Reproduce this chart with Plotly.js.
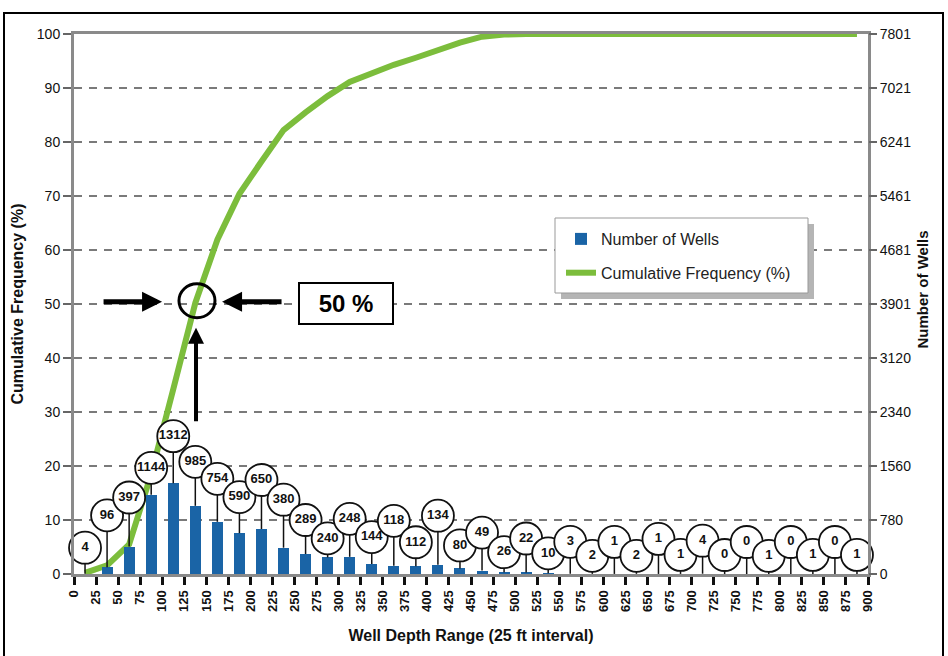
<!DOCTYPE html>
<html><head><meta charset="utf-8">
<script src="https://cdn.plot.ly/plotly-3.0.1.min.js"></script>
<style>html,body{margin:0;padding:0;background:#fff;}#chart{width:948px;height:656px;}</style>
</head><body><div id="chart"></div>
<script>
// ---------- data ----------
const depthTicks = [0,25,50,75,100,125,150,175,200,225,250,275,300,325,350,375,400,425,450,475,500,525,550,575,600,625,650,675,700,725,750,775,800,825,850,875,900];
const tickLabels = ['0','25','50','75','100','125','150','175','200','225','250','275','300','325','350','375','400','425','450','475','500','525','550','575','600','625','650','675','700','725','750','775','800','825','850','875','900'];
const wellCounts = [4,96,397,1144,1312,985,754,590,650,380,289,240,248,144,118,112,134,80,49,26,22,10,3,2,1,2,1,1,4,0,0,1,0,1,0,1];
const cumulativePct = [0.2,1.6,5.5,18.5,34.2,50.2,61.9,70.4,76.4,82.2,85.5,88.5,91.1,92.8,94.3,95.6,97.0,98.4,99.5,99.9,100,100,100,100,100,100,100,100,100,100,100,100,100,100,100,100];
const leftTicks = [0,10,20,30,40,50,60,70,80,90,100];
const rightTicks = [0,780,1560,2340,3120,3901,4681,5461,6241,7021,7801];
const rightTickLabels = ['0','780','1560','2340','3120','3901','4681','5461','6241','7021','7801'];

// ---------- layout helpers (label placement, px above bar top) ----------
const bubbleLiftPx = [26,52,49,27,47,44,43,36,49,48,34,19,38,27,45,24,49,23,38,20,34,20,32,18,32,18,35,19,33,19,32,18,32,19,32,19];

const M = {l:74, r:80, t:34, b:82};
const W = 948, H = 656;
const plotH = H - M.t - M.b;
const binW = depthTicks[1] - depthTicks[0];
const binMid = depthTicks.slice(0, -1).map(d => d + binW / 2);
const y2Max = rightTicks[rightTicks.length - 1];
const unitsPerPx = y2Max / plotH;
const bubbleY = wellCounts.map((c, i) => c + bubbleLiftPx[i] * unitsPerPx);

const stemX = [], stemY = [];
binMid.forEach((x, i) => { stemX.push(x, x, null); stemY.push(wellCounts[i], bubbleY[i], null); });

const FONT = '"Liberation Sans", Arial, sans-serif';
const NARROW = '"Liberation Sans Narrow", "Liberation Sans", Arial, sans-serif';

const traces = [
  {type:'bar', name:'Number of Wells', x:binMid, y:wellCounts, yaxis:'y2', width:binW*0.5,
   marker:{color:'#1a64a6'}, legendgroup:'a', hoverinfo:'x+y'},
  {type:'scatter', mode:'lines', name:'Cumulative Frequency (%)', x:binMid, y:cumulativePct, yaxis:'y',
   line:{color:'#7cbd3c', width:6}, legendgroup:'b'},
  {type:'scatter', mode:'lines', x:stemX, y:stemY, yaxis:'y2', showlegend:false,
   line:{color:'#111', width:1.5}, hoverinfo:'skip', cliponaxis:false},
  {type:'scatter', mode:'markers+text', x:binMid, y:bubbleY, yaxis:'y2', showlegend:false,
   text:wellCounts.map(String), textposition:'middle center',
   textfont:{family:NARROW, size:13, color:'#111', weight:'bold'},
   marker:{size:32, color:'#fff', line:{color:'#111', width:1.8}}, cliponaxis:false, hoverinfo:'skip'}
];

const px2x = p => (p - M.l) / (W - M.l - M.r);
const py2y = p => (H - M.b - p) / plotH;

const layout = {
  width:W, height:H, margin:M, paper_bgcolor:'#fff', plot_bgcolor:'#fff',
  font:{family:FONT, color:'#111'},
  bargap:0,
  xaxis:{range:[0,900], tickmode:'array', tickvals:depthTicks, ticktext:tickLabels, tickangle:-90,
    tickfont:{family:FONT, size:13, weight:'bold'}, ticks:'outside', ticklen:8, tickwidth:3, tickcolor:'#111',
    showline:true, linecolor:'#8a8a8a', linewidth:3, mirror:true, showgrid:false, zeroline:false,
    title:{text:'<b>Well Depth Range (25 ft interval)</b>', font:{family:FONT, size:16}, standoff:19}},
  yaxis:{range:[0,100], tickmode:'array', tickvals:leftTicks, ticks:'outside', ticklen:8, tickwidth:2, tickcolor:'#666',
    tickfont:{family:FONT, size:14}, showline:true, linecolor:'#8a8a8a', linewidth:3, mirror:true,
    showgrid:true, gridcolor:'#7a7a7a', gridwidth:2, griddash:'8px,7px', zeroline:false,
    title:{text:'<b>Cumulative Frequency (%)</b>', font:{family:FONT, size:16}, standoff:10}},
  yaxis2:{range:[0,y2Max], overlaying:'y', side:'right', tickmode:'array', tickvals:rightTicks, ticktext:rightTickLabels,
    ticks:'outside', ticklen:8, tickwidth:2, tickcolor:'#666', tickfont:{family:FONT, size:14},
    showgrid:false, zeroline:false, showline:false},
  legend:{x:px2x(561), y:py2y(222), xanchor:'left', yanchor:'top', bgcolor:'rgba(0,0,0,0)', borderwidth:0,
    font:{family:FONT, size:16, color:'#222'}, traceorder:'grouped', tracegroupgap:10},
  shapes:[
    {type:'rect', xref:'paper', yref:'paper', x0:px2x(561), x1:px2x(814), y0:py2y(299), y1:py2y(224),
     fillcolor:'#b5b5b5', line:{width:0}, layer:'above'},
    {type:'rect', xref:'paper', yref:'paper', x0:px2x(555), x1:px2x(808), y0:py2y(293), y1:py2y(218),
     fillcolor:'#fff', line:{color:'#999', width:1}, layer:'above'},
    {type:'rect', xref:'paper', yref:'paper', x0:px2x(4), x1:px2x(943), y0:py2y(665), y1:py2y(13),
     line:{color:'#000', width:2}, fillcolor:'rgba(0,0,0,0)'},
    {type:'circle', xref:'x', yref:'y', xsizemode:'pixel', ysizemode:'pixel', xanchor:139.4, yanchor:50.6,
     x0:-18, x1:18, y0:-17, y1:17, line:{color:'#000', width:3}}
  ],
  annotations:[
    {x:px2x(932), y:py2y(290), xref:'paper', yref:'paper', text:'<b>Number of Wells</b>', textangle:-90,
     showarrow:false, font:{family:FONT, size:15, color:'#111'}},
    {x:99.8, y:50.4, xref:'x', yref:'y', ax:-60, ay:0, text:'', showarrow:true, arrowhead:2, arrowsize:0.8, arrowwidth:5, arrowcolor:'#000'},
    {x:167.8, y:50.4, xref:'x', yref:'y', ax:61, ay:0, text:'', showarrow:true, arrowhead:2, arrowsize:0.8, arrowwidth:5, arrowcolor:'#000'},
    {x:138.3, y:45.6, xref:'x', yref:'y', ax:0, ay:95, text:'', showarrow:true, arrowhead:2, arrowsize:0.8, arrowwidth:4, arrowcolor:'#000'},
    {x:307.8, y:50.1, xref:'x', yref:'y', text:'<b>50 %</b>', showarrow:false, font:{family:FONT, size:24, color:'#000'},
     bgcolor:'#fff', bordercolor:'#000', borderwidth:2, width:90, height:37}
  ]
};

Plotly.newPlot('chart', traces, layout, {displayModeBar:false, staticPlot:true});
</script>
</body></html>
